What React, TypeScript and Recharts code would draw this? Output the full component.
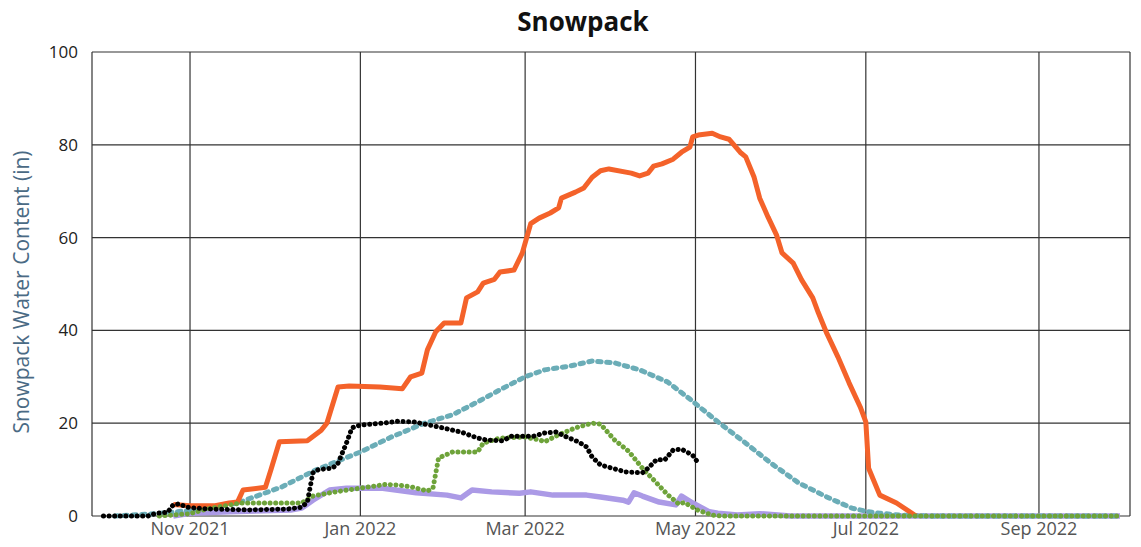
import { LineChart, Line, XAxis, YAxis, CartesianGrid } from 'recharts';

// daily snowpack water content (in)
const wy2022: [string, number][] = [
    ['2021-10-01', 0], ['2021-10-17', 0], ['2021-10-20', 0.6], ['2021-10-24', 0.8],
    ['2021-10-26', 2.4], ['2021-10-28', 2.6], ['2021-10-31', 1.9], ['2021-11-03', 1.7],
    ['2021-11-08', 1.5], ['2021-11-22', 1.3], ['2021-12-06', 1.5], ['2021-12-11', 1.9],
    ['2021-12-13', 3], ['2021-12-15', 9.3], ['2021-12-17', 10], ['2021-12-22', 10.3],
    ['2021-12-24', 11.4], ['2021-12-27', 15.7], ['2021-12-29', 19], ['2022-01-01', 19.6],
    ['2022-01-09', 20], ['2022-01-14', 20.4], ['2022-01-20', 20.3], ['2022-01-29', 19.2],
    ['2022-02-06', 18.1], ['2022-02-12', 16.8], ['2022-02-15', 16.4], ['2022-02-21', 16.2],
    ['2022-02-24', 17.2], ['2022-03-04', 17.2], ['2022-03-08', 17.9], ['2022-03-12', 18.1],
    ['2022-03-16', 17], ['2022-03-20', 16], ['2022-03-23', 14.9], ['2022-03-25', 12.7],
    ['2022-03-28', 11], ['2022-04-06', 9.5], ['2022-04-12', 9.3], ['2022-04-14', 10.3],
    ['2022-04-17', 12.1], ['2022-04-20', 12.1], ['2022-04-23', 14.2], ['2022-04-26', 14.4],
    ['2022-04-30', 13.1], ['2022-05-02', 11.4],
];

const maximum: [string, number][] = [
    ['2021-10-26', 2.5], ['2021-11-01', 2.2], ['2021-11-10', 2.2], ['2021-11-15', 2.8],
    ['2021-11-18', 3], ['2021-11-20', 5.6], ['2021-11-28', 6.2], ['2021-11-30', 10],
    ['2021-12-03', 16], ['2021-12-13', 16.2], ['2021-12-18', 18.5], ['2021-12-20', 20],
    ['2021-12-24', 27.8], ['2021-12-28', 28], ['2022-01-08', 27.8], ['2022-01-16', 27.4],
    ['2022-01-19', 30], ['2022-01-23', 30.8], ['2022-01-25', 35.8], ['2022-01-28', 39.7],
    ['2022-01-31', 41.6], ['2022-02-06', 41.6], ['2022-02-08', 47], ['2022-02-12', 48.3],
    ['2022-02-14', 50.2], ['2022-02-18', 51], ['2022-02-20', 52.6], ['2022-02-25', 53],
    ['2022-02-28', 56.7], ['2022-03-03', 63], ['2022-03-06', 64.2], ['2022-03-10', 65.3],
    ['2022-03-13', 66.4], ['2022-03-14', 68.5], ['2022-03-19', 69.8], ['2022-03-22', 70.7],
    ['2022-03-25', 73], ['2022-03-28', 74.4], ['2022-03-31', 74.8], ['2022-04-08', 73.9],
    ['2022-04-11', 73.3], ['2022-04-14', 73.9], ['2022-04-16', 75.4], ['2022-04-19', 75.9],
    ['2022-04-23', 76.9], ['2022-04-26', 78.4], ['2022-04-29', 79.5], ['2022-04-30', 81.7],
    ['2022-05-02', 82.1], ['2022-05-07', 82.5], ['2022-05-10', 81.7], ['2022-05-13', 81.2],
    ['2022-05-17', 78.4], ['2022-05-19', 77.4], ['2022-05-22', 73], ['2022-05-24', 68.5],
    ['2022-05-27', 64.4], ['2022-05-30', 60.6], ['2022-06-01', 56.7], ['2022-06-05', 54.5],
    ['2022-06-08', 50.9], ['2022-06-12', 47], ['2022-06-14', 43.8], ['2022-06-17', 39.4],
    ['2022-06-21', 34.3], ['2022-06-25', 28.7], ['2022-06-29', 23.5], ['2022-07-01', 20.3],
    ['2022-07-02', 10.3], ['2022-07-06', 4.5], ['2022-07-12', 2.8], ['2022-07-19', 0],
];

const median: [string, number][] = [
    ['2021-10-05', 0], ['2021-10-20', 0.5], ['2021-11-01', 1.2], ['2021-11-18', 2.8],
    ['2021-12-04', 6.3], ['2021-12-16', 9.9], ['2022-01-01', 13.8], ['2022-01-12', 17],
    ['2022-01-24', 20], ['2022-02-03', 21.8], ['2022-02-12', 24.6], ['2022-02-20', 27.2],
    ['2022-03-01', 30], ['2022-03-08', 31.5], ['2022-03-17', 32.3], ['2022-03-25', 33.4],
    ['2022-04-02', 33], ['2022-04-11', 31.5], ['2022-04-21', 28.9], ['2022-04-29', 25.2],
    ['2022-05-09', 20.3], ['2022-05-19', 15.7], ['2022-05-28', 11.4], ['2022-06-07', 7.1],
    ['2022-06-17', 4.1], ['2022-06-26', 1.7], ['2022-07-02', 0.9], ['2022-07-06', 0.6],
    ['2022-07-13', 0.2], ['2022-07-24', 0], ['2022-09-30', 0],
];

const wy2021: [string, number][] = [
    ['2021-10-21', 0], ['2021-11-01', 0.5], ['2021-11-07', 1.5], ['2021-11-19', 2.8],
    ['2021-12-11', 2.8], ['2021-12-15', 4.3], ['2021-12-22', 5.1], ['2022-01-01', 6],
    ['2022-01-10', 6.8], ['2022-01-14', 6.7], ['2022-01-19', 6.3], ['2022-01-25', 5.4],
    ['2022-01-27', 6], ['2022-01-29', 12.5], ['2022-02-03', 13.8], ['2022-02-12', 13.8],
    ['2022-02-14', 15.7], ['2022-02-20', 16.8], ['2022-03-01', 17], ['2022-03-06', 16.4],
    ['2022-03-08', 16], ['2022-03-13', 17.5], ['2022-03-19', 19], ['2022-03-25', 20],
    ['2022-03-28', 19.8], ['2022-04-02', 16.4], ['2022-04-07', 14], ['2022-04-12', 10.3],
    ['2022-04-16', 7.8], ['2022-04-21', 4.6], ['2022-04-25', 2.6], ['2022-04-27', 2.9],
    ['2022-05-02', 1.2], ['2022-05-07', 0.2], ['2022-05-10', 0], ['2022-09-30', 0],
];

const minimum: [string, number][] = [
    ['2021-10-26', 0], ['2021-11-01', 0.6], ['2021-11-15', 0.9], ['2021-12-07', 1.3],
    ['2021-12-11', 1.7], ['2021-12-15', 3.4], ['2021-12-21', 5.6], ['2021-12-27', 6],
    ['2022-01-09', 6], ['2022-01-21', 5], ['2022-02-01', 4.5], ['2022-02-06', 3.9],
    ['2022-02-10', 5.6], ['2022-02-17', 5.2], ['2022-02-27', 4.9], ['2022-03-03', 5.2],
    ['2022-03-11', 4.5], ['2022-03-23', 4.5], ['2022-03-28', 4.1], ['2022-04-05', 3.4],
    ['2022-04-07', 3], ['2022-04-09', 5], ['2022-04-12', 4.3], ['2022-04-18', 3],
    ['2022-04-24', 2.4], ['2022-04-26', 4.3], ['2022-04-30', 2.8], ['2022-05-06', 0.9],
    ['2022-05-09', 0.6], ['2022-05-16', 0.2], ['2022-05-24', 0.5], ['2022-06-04', 0],
    ['2022-09-30', 0],
];

const tickDates = ['2021-11-01', '2022-01-01', '2022-03-01', '2022-05-01', '2022-07-01', '2022-09-01'];
const tickLabels = ['Nov 2021', 'Jan 2022', 'Mar 2022', 'May 2022', 'Jul 2022', 'Sep 2022'];
const yTicks = [0, 20, 40, 60, 80, 100];

const DAY = 86400000;
const toTime = (d: string) => Date.parse(d + 'T00:00:00Z');
const toRows = (pts: [string, number][]) => pts.map(([d, v]) => ({ t: toTime(d), v }));

const xDomain = [toTime('2021-10-01') - 4.1 * DAY, toTime('2022-09-30') + 3.6 * DAY];
const xTicks = tickDates.map(toTime);

export default function App() {
    return (
        <div
            style={{
                position: 'absolute',
                left: 0,
                top: 0,
                width: 1141,
                height: 547,
                background: '#ffffff',
                fontFamily: '"Open Sans", sans-serif',
            }}
        >
            <div
                style={{
                    position: 'absolute',
                    left: 583,
                    top: 21,
                    transform: 'translate(-50%, -50%)',
                    fontSize: 26,
                    fontWeight: 700,
                    color: '#111111',
                    whiteSpace: 'nowrap',
                }}
            >
                Snowpack
            </div>
            <div
                style={{
                    position: 'absolute',
                    left: 21,
                    top: 292,
                    transform: 'translate(-50%, -50%) rotate(-90deg)',
                    fontSize: 21,
                    color: '#4a6a84',
                    whiteSpace: 'nowrap',
                }}
            >
                Snowpack Water Content (in)
            </div>

            <LineChart width={1141} height={547} margin={{ top: 52, right: 11, bottom: 0, left: 0 }}>
                <CartesianGrid stroke="#333333" strokeWidth={1.2} vertical horizontal />
                <XAxis
                    dataKey="t"
                    type="number"
                    domain={xDomain}
                    ticks={xTicks}
                    allowDataOverflow
                    tickFormatter={(t) => tickLabels[xTicks.indexOf(t)] ?? ''}
                    axisLine={false}
                    tickLine={false}
                    tickSize={0}
                    tickMargin={6}
                    height={31}
                    tick={{ fill: '#555555', fontSize: 18 }}
                />
                <YAxis
                    type="number"
                    domain={[0, 100]}
                    ticks={yTicks}
                    axisLine={false}
                    tickLine={false}
                    tickSize={0}
                    tickMargin={14}
                    width={92}
                    tick={{ fill: '#222222', fontSize: 17 }}
                />
                <Line
                    data={toRows(minimum)}
                    dataKey="v"
                    type="linear"
                    stroke="#ab9ae6"
                    strokeWidth={5.5}
                    strokeLinejoin="round"
                    dot={false}
                    isAnimationActive={false}
                />
                <Line
                    data={toRows(median)}
                    dataKey="v"
                    type="linear"
                    stroke="#6badb7"
                    strokeWidth={5}
                    strokeDasharray="3.5 5.5"
                    strokeLinecap="round"
                    dot={false}
                    isAnimationActive={false}
                />
                <Line
                    data={toRows(maximum)}
                    dataKey="v"
                    type="linear"
                    stroke="#f4622a"
                    strokeWidth={5}
                    strokeLinejoin="round"
                    dot={false}
                    isAnimationActive={false}
                />
                <Line
                    data={toRows(wy2021)}
                    dataKey="v"
                    type="linear"
                    stroke="#6ea33a"
                    strokeWidth={5}
                    strokeDasharray="0.1 5.5"
                    strokeLinecap="round"
                    dot={false}
                    isAnimationActive={false}
                />
                <Line
                    data={toRows(wy2022)}
                    dataKey="v"
                    type="linear"
                    stroke="#000000"
                    strokeWidth={5}
                    strokeDasharray="0.1 5.5"
                    strokeLinecap="round"
                    dot={false}
                    isAnimationActive={false}
                />
            </LineChart>
        </div>
    );
}
